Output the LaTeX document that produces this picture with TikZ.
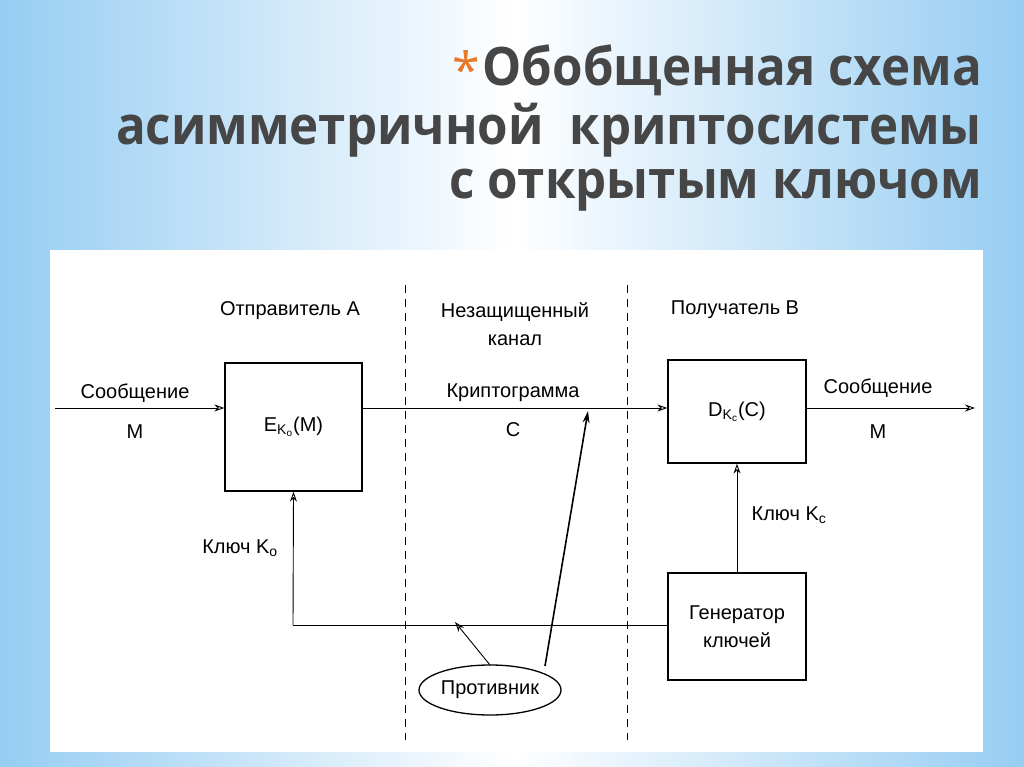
\documentclass[tikz,border=0pt]{standalone}
\usepackage{fontspec}
\setmainfont{Liberation Sans}
\newfontfamily\titlefont{Open Sans}
\usetikzlibrary{shapes.geometric,arrows.meta}
\definecolor{bgblue}{RGB}{150,205,242}
\definecolor{ttl}{RGB}{70,70,70}
\definecolor{star}{RGB}{230,120,40}
\tikzset{
  blk/.style={draw,line width=1.3pt,inner sep=0pt},
  lbl/.style={font=\fontsize{20}{24}\selectfont,inner sep=0pt},
  ln/.style={line width=0.9pt},
  arr/.style={ln,-{Stealth[length=10pt,width=7pt,open]}},
  sep/.style={line width=0.8pt,dash pattern=on 8pt off 6pt},
  ttlf/.style={font=\titlefont\bfseries\fontsize{53}{60}\selectfont,text=ttl,inner sep=0pt,anchor=east}
}
\begin{document}
\begin{tikzpicture}[x=1pt,y=-1pt]
\useasboundingbox (0,0) rectangle (1024,767);
\shade[left color=bgblue,right color=white] (0,0) rectangle (512,767);
\shade[left color=white,right color=bgblue] (512,0) rectangle (1024,767);
\fill[white] (50,250) rectangle (983,752);
% title
\node[ttlf,xscale=0.93] (t1) at (982,70) {Обобщенная схема};
\node[font=\titlefont\fontsize{50}{56}\selectfont,text=star,anchor=east,inner sep=0pt] (st) at ([xshift=-2pt]t1.west) {*};
\node[ttlf,xscale=0.93] (t2) at (982,130) {асимметричной\ \ криптосистемы};
\node[ttlf,xscale=0.93] (t3) at (982,190) {с открытым ключом};
% separators
\coordinate (s1a) at (405,285); \coordinate (s1b) at (405,740);
\coordinate (s2a) at (627,285); \coordinate (s2b) at (627,740);
\draw[sep] (s1a) -- (s1b);
\draw[sep] (s2a) -- (s2b);
% boxes
\node[blk,minimum width=137pt,minimum height=128pt] (enc) at (293.5,427) {};
\node[lbl] at (enc.center) {E$_{\mathrm{K_o}}$(M)};
\node[blk,minimum width=138pt,minimum height=103pt] (dec) at (737,411.5) {};
\node[lbl] at (dec.center) {D$_{\mathrm{K_c}}$(C)};
\node[blk,minimum width=138pt,minimum height=107pt,align=center,font=\fontsize{20}{28}\selectfont] (gen) at (737,626.5) {Генератор\\ключей};
\node[draw,ellipse,line width=1.3pt,minimum width=142pt,minimum height=50pt,lbl] (adv) at (490,690) {Противник};
% headers
\node[lbl] (h1) at (290,311) {Отправитель А};
\node[lbl,align=center,font=\fontsize{20}{28}\selectfont] (h2) at (515,324) {Незащищенный\\канал};
\node[lbl] (h3) at (735,310) {Получатель В};
% main line
\coordinate (in) at (55,408);
\coordinate (out) at (975,408);
\draw[arr] (in) -- (enc.west |- in);
\draw[arr] (enc.east |- in) -- (dec.west |- in);
\draw[arr] (dec.east |- in) -- (out);
\node[lbl] (m1) at (135,393) {Сообщение};
\node[lbl] (m2) at (135,432) {М};
\node[lbl] (c1) at (513,393) {Криптограмма};
\node[lbl] (c2) at (513,430) {С};
\node[lbl] (m3) at (878,388) {Сообщение};
\node[lbl] (m4) at (878,432) {М};
% keys
\coordinate (kc) at (293,625);
\draw[ln] (gen.west |- kc) -- (kc);
\draw[arr] (kc) -- (enc.south);
\node[lbl] (k1) at (240,548) {Ключ K$_{\mathrm{o}}$};
\draw[arr] (gen.north) -- (dec.south);
\node[lbl] (k2) at (789,515) {Ключ K$_{\mathrm{c}}$};
% adversary
\coordinate (tap1) at (455,622);
\coordinate (tap2) at (588,411);
\coordinate (a1) at (490,665);
\coordinate (a2) at (545,666);
\draw[arr] (a1) -- (tap1);
\draw[line width=1.6pt,-{Stealth[length=12pt,width=7pt]}] (a2) -- (tap2);
\end{tikzpicture}
\end{document}
